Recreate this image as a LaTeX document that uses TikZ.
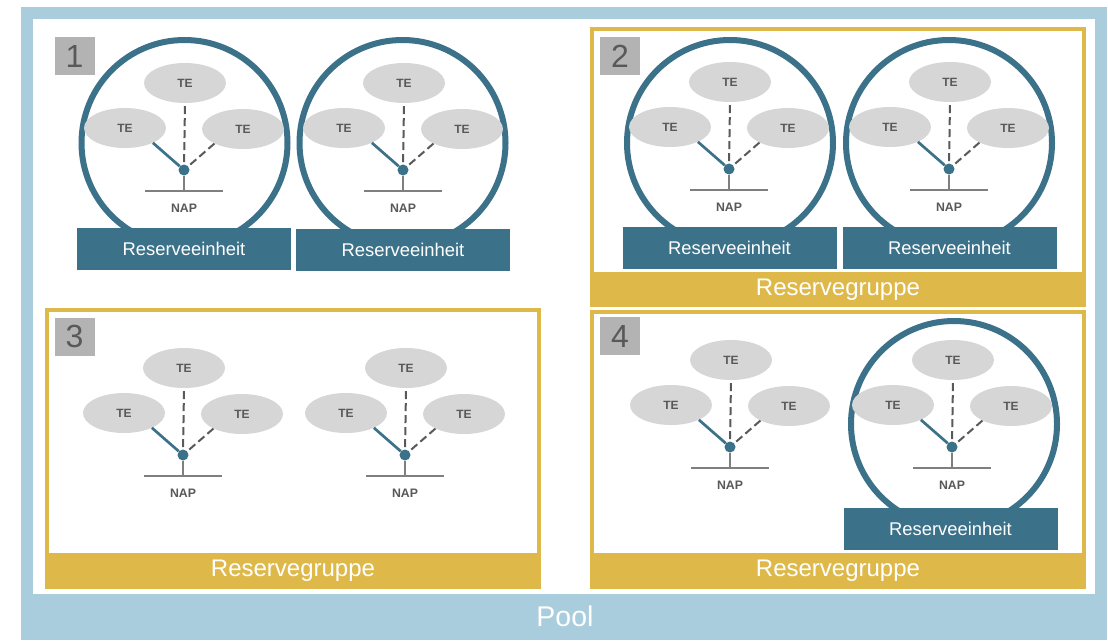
\documentclass[tikz,border=0pt]{standalone}
\usepackage{fontspec}
\setmainfont{Liberation Sans}
\usetikzlibrary{shapes.geometric,positioning}
\definecolor{poolblue}{HTML}{A9CDDC}
\definecolor{unitblue}{HTML}{3B7189}
\definecolor{gold}{HTML}{DEB94A}
\definecolor{tegrey}{HTML}{D6D6D6}
\definecolor{txtgrey}{HTML}{595959}
\definecolor{numgrey}{HTML}{B3B3B3}
\definecolor{napgrey}{HTML}{7F7F7F}

\begin{document}
\begin{tikzpicture}[x=1pt,y=-1pt]
\tikzset{te/.style={ellipse,fill=tegrey,minimum width=82pt,minimum height=40pt,inner sep=0pt,text=txtgrey,font=\bfseries\fontsize{12}{12}\selectfont},
  hub/.style={circle,fill=unitblue,minimum size=11pt,inner sep=0pt},
  link/.style={unitblue,line width=2.7pt},
  wire/.style={txtgrey,line width=2pt,dash pattern=on 8pt off 4pt},
  napline/.style={napgrey,line width=1.6pt},
  naplabel/.style={text=txtgrey,font=\bfseries\fontsize{12.3}{12.3}\selectfont},
  ring/.style={circle,draw=unitblue,line width=6pt,minimum size=206pt,inner sep=0pt},
  unitbox/.style={fill=unitblue,text=white,minimum width=214pt,minimum height=42pt,inner sep=0pt,font=\fontsize{18.4}{18.4}\selectfont},
  groupframe/.style={draw=gold,line width=4pt,fill=white,minimum width=492pt,inner sep=0pt,outer sep=2pt},
  band/.style={fill=gold,text=white,minimum width=496pt,minimum height=36pt,inner sep=0pt,outer sep=0pt,font=\fontsize{24}{24}\selectfont},
  numbox/.style={fill=numgrey,text=txtgrey,minimum width=40pt,minimum height=38pt,inner sep=0pt,font=\fontsize{32}{32}\selectfont}}
\useasboundingbox (0,0) rectangle (1108,640);
\fill[white] (0,0) rectangle (1108,640);
% pool
\fill[poolblue] (21,7) rectangle (1107,640);
\fill[white] (33,19) rectangle (1095,594);
\node[text=white,font=\fontsize{28.5}{28.5}\selectfont] (pool) at (565,616.5) {Pool};
% groups
\node[groupframe,minimum height=276pt] (g2) at (838,167) {};
\node[band,anchor=south,minimum height=35pt] (b2) at (g2.south) {Reservegruppe};
\node[groupframe,minimum height=277pt] (g3) at (293,448.5) {};
\node[band,anchor=south] (b3) at (g3.south) {Reservegruppe};
\node[groupframe,minimum height=275pt] (g4) at (838,449.5) {};
\node[band,anchor=south] (b4) at (g4.south) {Reservegruppe};
% numbers
\node[numbox] (k1) at (74.5,56) {1};
\node[numbox] (k2) at (620,56) {2};
\node[numbox] (k3) at (74.5,336.5) {3};
\node[numbox] (k4) at (620,336) {4};
% units
\node[ring] (c1) at (184.5,143) {};
\node[ring] (c2) at (402.5,143) {};
\node[ring] (c3) at (730,143) {};
\node[ring] (c4) at (949,143) {};
\node[ring] (c5) at (954,424) {};
\node[unitbox] (u1) at (184,249) {Reserveeinheit};
\node[unitbox] (u2) at (403,250) {Reserveeinheit};
\node[unitbox] (u3) at (729.5,248) {Reserveeinheit};
\node[unitbox] (u4) at (949.5,248) {Reserveeinheit};
\node[unitbox] (u5) at (950.5,528.5) {Reserveeinheit};
% trees
\foreach \n/\x/\y in {1/184/170,2/403/170,3/729/169,4/949/169,5/183/455,6/405/455,7/730/447,8/952/447}{
  \node[hub] (h\n) at (\x,\y) {};
  \node[te] (t\n) at (\x+1,\y-87) {TE};
  \node[te] (l\n) at (\x-59,\y-42) {TE};
  \node[te] (r\n) at (\x+59,\y-41) {TE};
  \draw[link] (l\n.-28) -- (h\n);
  \draw[wire,shorten <=3pt] (t\n.south) -- (h\n);
  \draw[wire] (r\n.-153) -- (h\n);
  \draw[napline] (h\n.south) -- (\x,\y+21) coordinate (f\n);
  \draw[napline] ([xshift=-39pt]f\n) -- ([xshift=39pt]f\n);
  \node[naplabel] (n\n) at (\x,\y+38) {NAP};
}
\end{tikzpicture}
\end{document}
